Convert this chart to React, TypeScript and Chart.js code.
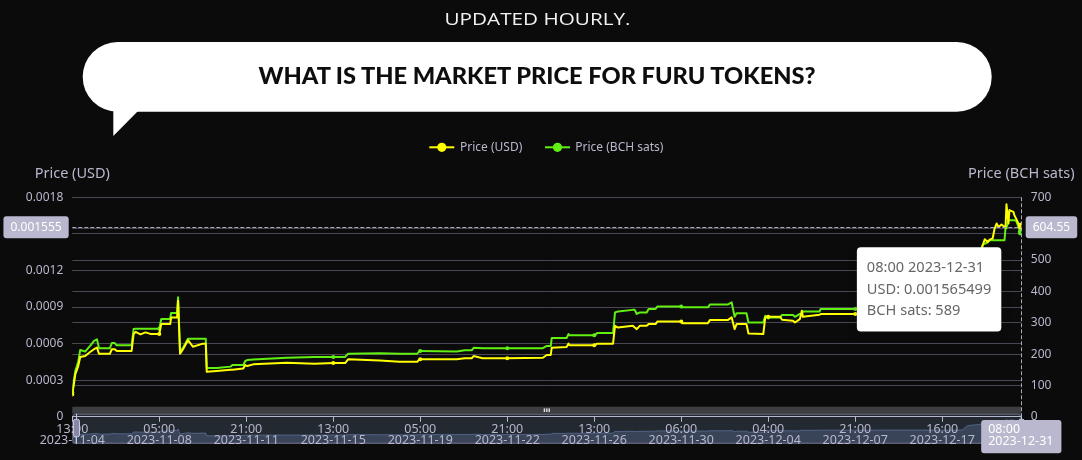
import React, { useEffect, useRef } from 'react';
import { Chart, registerables } from 'chart.js';

Chart.register(...registerables);

const FONT = '"Noto Sans", "DejaVu Sans", sans-serif';
const BG = '#0b0b0b';
const AXIS_TEXT = '#B9B8CE';
const GRID = '#484753';
const USD_COLOR = '#ffff00';
const SATS_COLOR = '#62ef12';

// hourly record index (category position) of each breakpoint
const hourIdx = [
  0, 3, 6, 8, 13, 18, 22, 25, 27, 38,
  40, 43, 45, 60, 62, 64, 69, 74, 79, 88,
  90, 99, 100, 106, 107, 109, 112, 117, 122, 132,
  135, 136, 146, 160, 162, 173, 175, 177, 183, 217,
  245, 264, 276, 279, 311, 331, 349, 351, 352, 389,
  397, 404, 406, 415, 440, 476, 480, 484, 485, 500,
  502, 503, 528, 531, 547, 549, 552, 567, 569, 571,
  574, 581, 583, 590, 592, 616, 617, 643, 645, 663,
  667, 670, 672, 682, 684, 699, 701, 703, 704, 716,
  718, 729, 731, 736, 738, 739, 756, 757, 792, 830,
  880, 900, 906, 912, 918, 921, 923, 926, 928, 931,
  933, 935, 937, 940, 943, 944, 945, 947, 948, 952,
  953, 955, 957, 959, 960,
];

const priceUSD = [
  0.000182, 0.000347, 0.000416, 0.00049, 0.000498, 0.000531, 0.000554, 0.000567, 0.000517, 0.000517,
  0.000554, 0.000554, 0.00054, 0.00054, 0.000678, 0.000697, 0.000676, 0.000692, 0.00068, 0.00068,
  0.00076, 0.00076, 0.000815, 0.000815, 0.000952, 0.000517, 0.000554, 0.000628, 0.000575, 0.0006,
  0.0006, 0.000369, 0.000375, 0.000385, 0.000385, 0.000397, 0.000424, 0.000416, 0.00043, 0.000443,
  0.000435, 0.000441, 0.000441, 0.000471, 0.000461, 0.000451, 0.000451, 0.000471, 0.000471, 0.000471,
  0.00048, 0.00048, 0.000498, 0.00048, 0.00048, 0.000484, 0.000507, 0.000507, 0.000567, 0.000573,
  0.0006, 0.000587, 0.000587, 0.0006, 0.0006, 0.000746, 0.000732, 0.000746, 0.000732, 0.000719,
  0.000746, 0.000746, 0.00076, 0.00076, 0.000782, 0.000782, 0.000768, 0.000768, 0.000793, 0.000793,
  0.000815, 0.000719, 0.00076, 0.00076, 0.000683, 0.000678, 0.000815, 0.00082, 0.00082, 0.00082,
  0.000796, 0.000787, 0.000773, 0.000801, 0.00087, 0.00082, 0.000837, 0.000843, 0.000843, 0.00085,
  0.000848, 0.000855, 0.00122, 0.00128, 0.00132, 0.001406, 0.001456, 0.001434, 0.001453, 0.001462,
  0.001544, 0.001585, 0.001557, 0.001577, 0.001557, 0.001549, 0.001742, 0.001585, 0.001695, 0.001681,
  0.001654, 0.001621, 0.001585, 0.001563, 0.001565499,
];

const priceSats = [
  78, 146, 175, 213, 208, 226, 242, 247, 219, 219,
  235, 235, 228, 228, 280, 281, 281, 281, 281, 281,
  312, 312, 331, 331, 381, 210, 220, 249, 249, 249,
  249, 156, 156, 160, 165, 165, 178, 181, 183, 188,
  191, 191, 191, 201, 203, 201, 201, 210, 210, 208,
  212, 212, 220, 219, 219, 219, 226, 226, 251, 251,
  264, 260, 260, 267, 267, 333, 336, 341, 341, 328,
  333, 333, 344, 344, 352, 352, 349, 349, 358, 358,
  365, 319, 330, 330, 301, 301, 322, 317, 317, 317,
  325, 325, 319, 328, 328, 336, 336, 344, 344, 344,
  347, 347, 480, 500, 520, 549, 552, 556, 563, 563,
  563, 563, 563, 563, 563, 600, 601, 627, 627, 627,
  627, 624, 606, 592, 589,
];

const tickIdx = [0, 88, 176, 264, 352, 440, 528, 616, 704, 792, 880];
const tickTimes = ['13:00', '05:00', '21:00', '13:00', '05:00', '21:00', '13:00', '06:00', '04:00', '21:00', '16:00'];
const tickDates = [
  '2023-11-04', '2023-11-08', '2023-11-11', '2023-11-15', '2023-11-19', '2023-11-22',
  '2023-11-26', '2023-11-30', '2023-12-04', '2023-12-07', '2023-12-17',
];
const usdTicks = [0, 0.0003, 0.0006, 0.0009, 0.0012, 0.0015, 0.0018];
const satsTicks = [0, 100, 200, 300, 400, 500, 600, 700];

const seriesNames = ['Price (USD)', 'Price (BCH sats)'];
const axisNames = ['Price (USD)', 'Price (BCH sats)'];

const pointerTime = '08:00';
const pointerDate = '2023-12-31';
const pointerUSD = 0.001555;
const pointerSats = 604.55;

const headline = 'UPDATED HOURLY.';
const question = 'WHAT IS THE MARKET PRICE FOR FURU TOKENS?';

const LAST = hourIdx.length - 1;

function rr(ctx: CanvasRenderingContext2D, x: number, y: number, w: number, h: number, r: number) {
  ctx.beginPath();
  ctx.moveTo(x + r, y);
  ctx.lineTo(x + w - r, y);
  ctx.arcTo(x + w, y, x + w, y + r, r);
  ctx.lineTo(x + w, y + h - r);
  ctx.arcTo(x + w, y + h, x + w - r, y + h, r);
  ctx.lineTo(x + r, y + h);
  ctx.arcTo(x, y + h, x, y + h - r, r);
  ctx.lineTo(x, y + r);
  ctx.arcTo(x, y, x + r, y, r);
  ctx.closePath();
}

const overlayPlugin = {
  id: 'overlayPlugin',
  beforeDraw(chart: any) {
    const ctx: CanvasRenderingContext2D = chart.ctx;
    const { left, right, bottom } = chart.chartArea;
    const xs = chart.scales.x;
    const bodyTop = bottom - 3.1;
    const bodyH = 30;
    const bodyBottom = bodyTop + bodyH;
    ctx.save();
    // move handle bar
    ctx.fillStyle = 'rgba(176,182,195,0.3)';
    ctx.fillRect(left, bodyTop - 7, right - left, 7);
    const cx = (left + right) / 2;
    ctx.fillStyle = 'rgba(255,255,255,0.85)';
    [-2.4, 0, 2.4].forEach((d) => ctx.fillRect(cx + d - 0.7, bodyTop - 5.3, 1.4, 3.6));
    // slider body (fully selected filler)
    ctx.fillStyle = 'rgba(135,163,206,0.2)';
    ctx.fillRect(left, bodyTop, right - left, bodyH);
    // data shadow of first series
    let mn = Infinity, mx = -Infinity;
    priceUSD.forEach((v) => { mn = Math.min(mn, v); mx = Math.max(mx, v); });
    const off = (mx - mn) * 0.3;
    const lo = mn - off, hi = mx + off;
    const sy = (v: number) => bodyBottom - ((v - lo) / (hi - lo)) * bodyH;
    ctx.beginPath();
    ctx.moveTo(xs.getPixelForValue(hourIdx[0]), bodyBottom);
    hourIdx.forEach((h, i) => ctx.lineTo(xs.getPixelForValue(h), sy(priceUSD[i])));
    ctx.lineTo(xs.getPixelForValue(hourIdx[LAST]), bodyBottom);
    ctx.closePath();
    ctx.fillStyle = 'rgba(143,176,247,0.2)';
    ctx.fill();
    ctx.beginPath();
    hourIdx.forEach((h, i) => {
      const px = xs.getPixelForValue(h);
      if (i === 0) ctx.moveTo(px, sy(priceUSD[i]));
      else ctx.lineTo(px, sy(priceUSD[i]));
    });
    ctx.strokeStyle = 'rgba(143,176,247,0.6)';
    ctx.lineWidth = 0.6;
    ctx.stroke();
    // border
    ctx.strokeStyle = '#71708A';
    ctx.lineWidth = 1;
    rr(ctx, left + 0.5, bodyTop + 0.5, right - left - 1, bodyH - 1, 3);
    ctx.stroke();
    ctx.restore();
  },
  afterDraw(chart: any) {
    const ctx: CanvasRenderingContext2D = chart.ctx;
    const { left, right, top, bottom } = chart.chartArea;
    const xs = chart.scales.x;
    const yL = chart.scales.yL;
    const bodyTop = bottom - 3.1;
    const bodyH = 30;
    ctx.save();

    // slider handles
    [left + 3.2, right].forEach((hx) => {
      ctx.strokeStyle = '#C5CBE3';
      ctx.lineWidth = 1;
      ctx.beginPath();
      ctx.moveTo(Math.round(hx) + 0.5, bodyTop);
      ctx.lineTo(Math.round(hx) + 0.5, bodyTop + bodyH);
      ctx.stroke();
      rr(ctx, Math.round(hx) - 2.5, bodyTop + 5.6, 6, 17.5, 2);
      ctx.fillStyle = '#8987a6';
      ctx.fill();
      ctx.stroke();
    });

    // legend
    ctx.font = `12px ${FONT}`;
    ctx.textBaseline = 'middle';
    ctx.textAlign = 'left';
    const legY = 17.3;
    const iconX = [429.3, 545];
    const textX = [460, 575.3];
    [USD_COLOR, SATS_COLOR].forEach((c, i) => {
      ctx.strokeStyle = c;
      ctx.lineWidth = 2;
      ctx.beginPath();
      ctx.moveTo(iconX[i], legY);
      ctx.lineTo(iconX[i] + 25, legY);
      ctx.stroke();
      ctx.fillStyle = c;
      ctx.beginPath();
      ctx.arc(iconX[i] + 12.5, legY, 4.6, 0, Math.PI * 2);
      ctx.fill();
      ctx.fillStyle = AXIS_TEXT;
      ctx.fillText(seriesNames[i], textX[i], legY + 0.5);
    });

    // axis names
    ctx.font = `14.5px ${FONT}`;
    ctx.textAlign = 'center';
    ctx.fillStyle = AXIS_TEXT;
    ctx.fillText(axisNames[0], left, 43.5);
    ctx.fillText(axisNames[1], right, 43.5);

    // crosshair
    const px = xs.getPixelForValue(hourIdx[LAST]);
    const py = yL.getPixelForValue(pointerUSD);
    ctx.strokeStyle = '#a9a8bc';
    ctx.lineWidth = 1;
    ctx.setLineDash([4, 2]);
    ctx.beginPath();
    ctx.moveTo(left, Math.round(py) + 0.5);
    ctx.lineTo(right, Math.round(py) + 0.5);
    ctx.moveTo(Math.round(px) + 0.5, top);
    ctx.lineTo(Math.round(px) + 0.5, bottom);
    ctx.stroke();
    ctx.setLineDash([]);

    // pointer labels
    ctx.font = `12px ${FONT}`;
    const tL = String(pointerUSD);
    const tR = String(pointerSats);
    const wL = ctx.measureText(tL).width + 14;
    const wR = ctx.measureText(tR).width + 14;
    const bh = 22;
    ctx.fillStyle = AXIS_TEXT;
    rr(ctx, left - 3.6 - wL, py - bh / 2, wL, bh, 3);
    ctx.fill();
    rr(ctx, right + 4.4, py - bh / 2, wR, bh, 3);
    ctx.fill();
    ctx.fillStyle = '#ffffff';
    ctx.textAlign = 'center';
    ctx.fillText(tL, left - 3.6 - wL / 2, py);
    ctx.fillText(tR, right + 4.4 + wR / 2, py);

    ctx.font = `12.5px ${FONT}`;
    const wB = Math.max(ctx.measureText(pointerTime).width, ctx.measureText(pointerDate).width) + 15;
    const hB = 33.3;
    const bx = px - wB / 2;
    const by = bottom + 3.2;
    ctx.fillStyle = AXIS_TEXT;
    rr(ctx, bx, by, wB, hB, 3);
    ctx.fill();
    ctx.fillStyle = '#ffffff';
    ctx.textAlign = 'left';
    ctx.fillText(pointerTime, bx + 7, by + 9.5);
    ctx.fillText(pointerDate, bx + 7, by + 21);

    // tooltip
    const lines = [
      `${pointerTime} ${pointerDate}`,
      `USD: ${priceUSD[LAST]}`,
      `BCH sats: ${priceSats[LAST]}`,
    ];
    ctx.font = `14.6px ${FONT}`;
    let tw = 0;
    lines.forEach((l) => { tw = Math.max(tw, ctx.measureText(l).width); });
    const boxW = tw + 20;
    const boxH = 84.4;
    const tx = px - 20 - boxW;
    const ty = py + 20;
    ctx.shadowColor = 'rgba(0,0,0,0.2)';
    ctx.shadowBlur = 10;
    ctx.shadowOffsetY = 2;
    ctx.fillStyle = '#ffffff';
    rr(ctx, tx, ty, boxW, boxH, 4);
    ctx.fill();
    ctx.shadowColor = 'transparent';
    ctx.shadowBlur = 0;
    ctx.shadowOffsetY = 0;
    ctx.fillStyle = '#666666';
    ctx.textAlign = 'left';
    lines.forEach((l, i) => ctx.fillText(l, tx + 10, ty + 21 + i * 21.2));

    ctx.restore();
  },
};

export default function App() {
  const ref = useRef<HTMLCanvasElement | null>(null);

  useEffect(() => {
    const canvas = ref.current;
    if (!canvas) return;
    Chart.defaults.font.family = FONT;
    const pr = (ctx: any) => {
      const x = ctx.raw && ctx.raw.x;
      if (x === hourIdx[LAST]) return 3.5;
      return tickIdx.includes(x) ? 2 : 0;
    };
    const chart = new Chart(canvas, {
      type: 'line',
      data: {
        datasets: [
          {
            label: seriesNames[0],
            data: hourIdx.map((h, i) => ({ x: h, y: priceUSD[i] })),
            yAxisID: 'yL',
            borderColor: USD_COLOR,
            backgroundColor: USD_COLOR,
            borderWidth: 2,
            borderJoinStyle: 'round',
            pointRadius: pr,
            pointBorderWidth: 0,
            pointBackgroundColor: USD_COLOR,
            tension: 0,
          },
          {
            label: seriesNames[1],
            data: hourIdx.map((h, i) => ({ x: h, y: priceSats[i] })),
            yAxisID: 'yR',
            borderColor: SATS_COLOR,
            backgroundColor: SATS_COLOR,
            borderWidth: 2,
            borderJoinStyle: 'round',
            pointRadius: pr,
            pointBorderWidth: 0,
            pointBackgroundColor: SATS_COLOR,
            tension: 0,
          },
        ],
      },
      options: {
        responsive: false,
        animation: false,
        events: [],
        layout: { padding: { top: 67.3, left: 0, right: 0, bottom: 0 } },
        plugins: {
          legend: { display: false },
          tooltip: { enabled: false },
          title: { display: false },
        },
        scales: {
          x: {
            type: 'linear',
            position: 'bottom',
            min: hourIdx[0],
            max: hourIdx[LAST],
            afterBuildTicks: (s: any) => {
              s.ticks = tickIdx.map((v) => ({ value: v }));
            },
            afterFit: (s: any) => {
              s.height = 43.2;
            },
            grid: {
              display: true,
              drawOnChartArea: false,
              drawTicks: true,
              tickLength: 5,
              color: AXIS_TEXT,
              tickColor: AXIS_TEXT,
            },
            border: { display: true, color: AXIS_TEXT, width: 1 },
            ticks: {
              autoSkip: false,
              maxRotation: 0,
              minRotation: 0,
              padding: 1.3,
              color: AXIS_TEXT,
              font: { size: 12.5, family: FONT, lineHeight: 0.94 },
              callback: (v: any) => {
                const i = tickIdx.indexOf(Number(v));
                return i < 0 ? '' : [tickTimes[i], tickDates[i]];
              },
            },
          },
          yL: {
            type: 'linear',
            position: 'left',
            min: 0,
            max: usdTicks[usdTicks.length - 1],
            afterBuildTicks: (s: any) => {
              s.ticks = usdTicks.map((v) => ({ value: v }));
            },
            afterFit: (s: any) => {
              s.width = 72.3;
            },
            grid: { color: GRID, drawTicks: false, lineWidth: 1 },
            border: { display: false },
            ticks: {
              padding: 9,
              color: AXIS_TEXT,
              font: { size: 12, family: FONT },
              callback: (v: any) => (Number(v) === 0 ? '0' : Number(v).toFixed(4)),
            },
          },
          yR: {
            type: 'linear',
            position: 'right',
            min: 0,
            max: satsTicks[satsTicks.length - 1],
            afterBuildTicks: (s: any) => {
              s.ticks = satsTicks.map((v) => ({ value: v }));
            },
            afterFit: (s: any) => {
              s.width = 60.7;
            },
            grid: { color: GRID, drawTicks: false, lineWidth: 1 },
            border: { display: false },
            ticks: {
              padding: 9.5,
              color: AXIS_TEXT,
              font: { size: 12, family: FONT },
              callback: (v: any) => String(v),
            },
          },
        },
      } as any,
      plugins: [overlayPlugin as any],
    });
    return () => chart.destroy();
  }, []);

  return (
    <div
      style={{
        position: 'fixed',
        left: 0,
        top: 0,
        width: 1082,
        height: 460,
        background: BG,
        overflow: 'hidden',
      }}
    >
      <div style={{ position: 'absolute', left: 0, top: 130, width: 1082, height: 330 }}>
        <canvas ref={ref} width={1082} height={330} style={{ width: 1082, height: 330, display: 'block' }} />
      </div>
      <svg width={1082} height={140} style={{ position: 'absolute', left: 0, top: 0 }}>
        <text
          x={537.5}
          y={25}
          textAnchor="middle"
          textLength={186}
          lengthAdjust="spacingAndGlyphs"
          fill="#f2f2f2"
          style={{ fontFamily: '"Open Sans", "Noto Sans", sans-serif', fontSize: 17 }}
        >
          {headline}
        </text>
        <path
          d="M 117.55 42 H 956.85 A 34.85 34.85 0 0 1 956.85 111.7 H 117.55 A 34.85 34.85 0 0 1 117.55 42 Z"
          fill="#ffffff"
        />
        <path d="M 113.3 108 L 113.3 136 L 141 108 Z" fill="#ffffff" />
        <text
          x={537}
          y={83.5}
          textAnchor="middle"
          textLength={557}
          lengthAdjust="spacingAndGlyphs"
          fill="#0d0d0d"
          style={{ fontFamily: 'Lato, "Noto Sans", sans-serif', fontSize: 23, fontWeight: 900 }}
        >
          {question}
        </text>
      </svg>
    </div>
  );
}
